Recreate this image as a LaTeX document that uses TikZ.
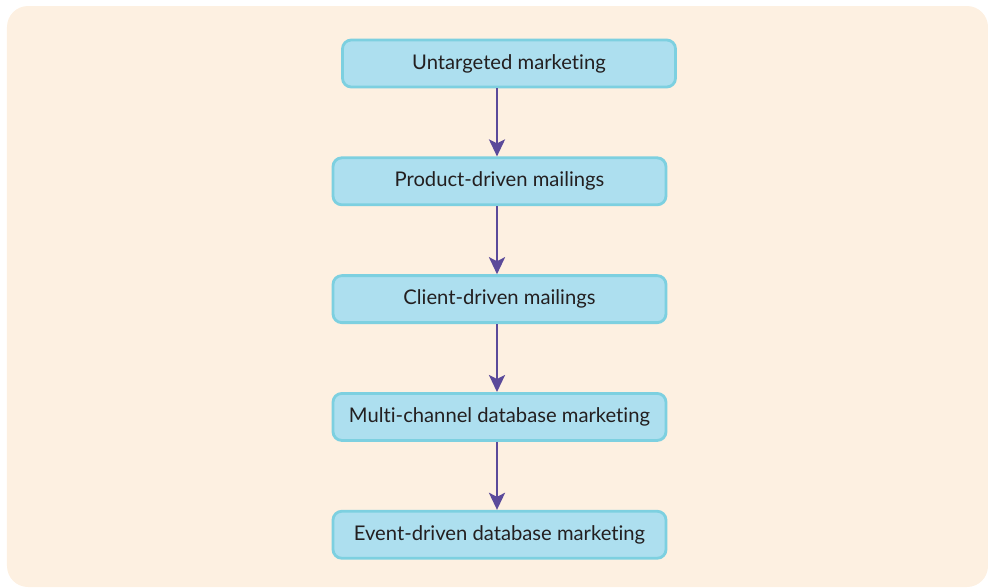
\documentclass[tikz,border=0pt]{standalone}
\usepackage{fontspec}
\setmainfont{Lato}[Ligatures={NoCommon}]
\usepackage{tikz}
\usetikzlibrary{arrows.meta, positioning}
\usepackage{xcolor}
\definecolor{bgcream}{RGB}{253,240,225}
\definecolor{stepfill}{RGB}{173,223,239}
\definecolor{stepline}{RGB}{125,208,224}
\definecolor{arrowpurple}{RGB}{91,74,154}
\definecolor{textdark}{RGB}{35,31,32}

\begin{document}
\begin{tikzpicture}[
    stage/.style={rectangle, draw=stepline, fill=stepfill, line width=1.6pt, minimum width=6.66cm, minimum height=0.94cm, align=center, rounded corners=5pt, font=\fontsize{11.5}{13}\selectfont, text=textdark},
    arr/.style={-{Stealth[length=0.34cm, width=0.32cm, inset=0.08cm]}, line width=1.6pt, color=arrowpurple},
    node distance=1.36cm
]
\useasboundingbox (0,0) rectangle (19.76,-11.74);
\fill[bgcream, rounded corners=0.42cm] (0.14,-0.12) rectangle (19.76,-11.74);

\node[stage] (untargeted) at (10.18,-1.27) {Untargeted marketing};
\node[stage, below=of untargeted, xshift=-0.19cm] (product) {Product-driven mailings};
\node[stage, below=of product] (client) {Client-driven mailings};
\node[stage, below=of client] (multi) {Multi-channel database marketing};
\node[stage, below=of multi] (event) {Event-driven database marketing};

\draw[arr] (untargeted.south -| product.north) ++(-0.05,0) coordinate (a1) -- (a1 |- product.north);
\draw[arr] (product.south) ++(-0.05,0) coordinate (a2) -- (a2 |- client.north);
\draw[arr] (client.south) ++(-0.05,0) coordinate (a3) -- (a3 |- multi.north);
\draw[arr] (multi.south) ++(-0.05,0) coordinate (a4) -- (a4 |- event.north);
\end{tikzpicture}
\end{document}
